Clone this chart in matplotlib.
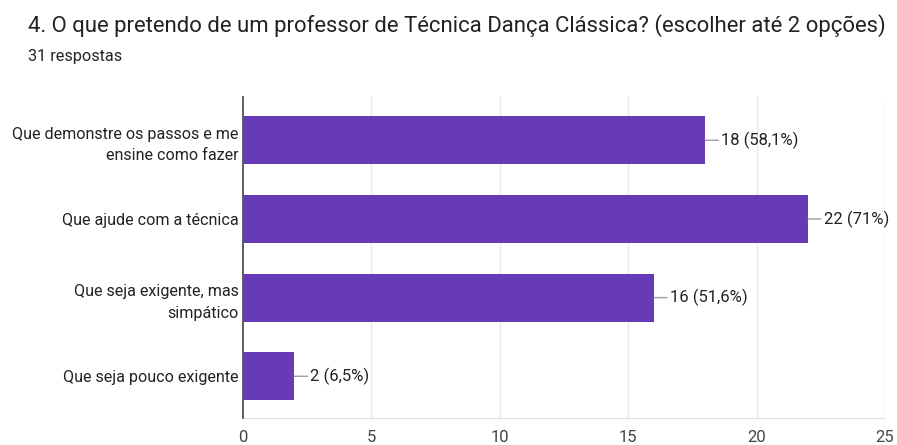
import matplotlib.pyplot as plt

plt.rcParams['font.family'] = ['Roboto', 'DejaVu Sans']

categorias = ['Que demonstre os passos e me\nensine como fazer',
              'Que ajude com a técnica',
              'Que seja exigente, mas\nsimpático',
              'Que seja pouco exigente']
respostas = [18, 22, 16, 2]
rotulos = ['18 (58,1%)', '22 (71%)', '16 (51,6%)', '2 (6,5%)']
ticks_x = [0, 5, 10, 15, 20, 25]

roxo = '#673AB7'
texto = '#222222'

fig = plt.figure(figsize=(8.97, 4.45), dpi=100)
ax = fig.add_axes([0.2709, 0.0607, 0.7157, 0.7213])

pos = list(range(len(categorias)))
ax.barh(pos, respostas, height=0.61, color=roxo, zorder=3)

for i, (v, r) in enumerate(zip(respostas, rotulos)):
    ax.annotate(r, xy=(v, i), xytext=(16, 0), textcoords='offset pixels',
                va='center', ha='left', fontsize=12, color=texto,
                arrowprops=dict(arrowstyle='-', color='#9e9e9e', lw=1,
                                shrinkA=0, shrinkB=0))

ax.set_xlim(0, 25)
ax.set_ylim(3.53, -0.55)
ax.set_xticks(ticks_x)
ax.set_xticklabels([str(t) for t in ticks_x], fontsize=12, color='#444444')
ax.set_yticks(pos)
ax.set_yticklabels(categorias, fontsize=11.6, color=texto, ha='right',
                   multialignment='right', linespacing=1.55)
ax.tick_params(axis='both', length=0)
ax.tick_params(axis='x', pad=9)
ax.tick_params(axis='y', pad=3)

ax.grid(axis='x', color='#e8e8e8', lw=1, zorder=0)
for s in ['top', 'right']:
    ax.spines[s].set_visible(False)
ax.spines['left'].set_color('#555555')
ax.spines['left'].set_linewidth(1.3)
ax.spines['left'].set_zorder(4)
ax.spines['bottom'].set_color('#e0e0e0')

fig.text(28 / 897, 1 - 26 / 445, '4. O que pretendo de um professor de Técnica Dança Clássica? (escolher até 2 opções)',
         fontsize=15.9, color=texto, va='center', ha='left')
fig.text(28 / 897, 1 - 57 / 445, '31 respostas', fontsize=11.7, color=texto,
         va='center', ha='left')

fig.savefig('out.png', dpi=100)
